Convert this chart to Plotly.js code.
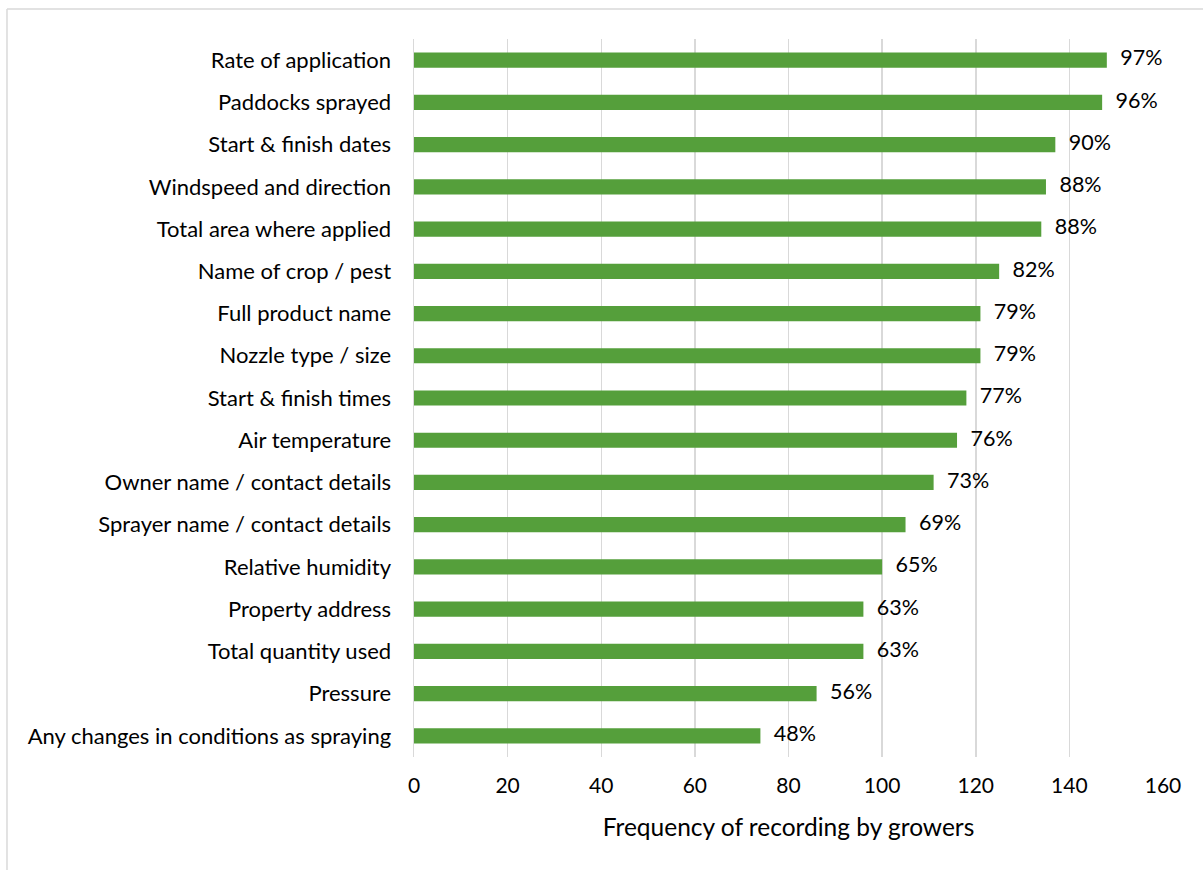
<!DOCTYPE html>
<html>
<head>
<meta charset="utf-8">
<script src="https://cdn.plot.ly/plotly-3.0.1.min.js"></script>
<style>html,body{margin:0;padding:0;background:#fff;}#chart{width:1203px;height:870px;}</style>
</head>
<body>
<div id="chart"></div>
<script>
const categories = [
  "Rate of application",
  "Paddocks sprayed",
  "Start & finish dates",
  "Windspeed and direction",
  "Total area where applied",
  "Name of crop / pest",
  "Full product name",
  "Nozzle type / size",
  "Start & finish times",
  "Air temperature",
  "Owner name / contact details",
  "Sprayer name / contact details",
  "Relative humidity",
  "Property address",
  "Total quantity used",
  "Pressure",
  "Any changes in conditions as spraying"
];
const frequency = [148, 147, 137, 135, 134, 125, 121, 121, 118, 116, 111, 105, 100, 96, 96, 86, 74];
const percentLabels = ["97%", "96%", "90%", "88%", "88%", "82%", "79%", "79%", "77%", "76%", "73%", "69%", "65%", "63%", "63%", "56%", "48%"];
const xTicks = [0, 20, 40, 60, 80, 100, 120, 140, 160];

const FONT = "Lato, 'Open Sans', sans-serif";

const bars = {
  type: "bar",
  orientation: "h",
  y: categories,
  x: frequency,
  width: 0.36,
  marker: {color: "#559F3B"},
  hoverinfo: "skip"
};
const labels = {
  type: "scatter",
  mode: "text",
  y: categories,
  x: frequency,
  text: percentLabels.map(t => "\u2002\u2009" + t),
  textposition: "middle right",
  textfont: {family: FONT, size: 21.5, color: "#000"},
  cliponaxis: false,
  hoverinfo: "skip"
};

const layout = {
  width: 1203, height: 870,
  margin: {l: 414, r: 40, t: 39, b: 113},
  paper_bgcolor: "#fff", plot_bgcolor: "#fff",
  showlegend: false,
  font: {family: FONT, size: 21, color: "#000"},
  bargap: 0.64,
  xaxis: {
    range: [0, 160],
    tickvals: xTicks,
    ticktext: xTicks.map(String),
    showgrid: true, gridcolor: "#d9d9d9", gridwidth: 1.5,
    zeroline: false, showline: false,
    ticks: "", ticklabelstandoff: 14,
    tickfont: {family: FONT, size: 21, color: "#000"},
    title: {text: "Frequency of recording by growers", font: {family: FONT, size: 24.5, color: "#000"}, standoff: 22},
    fixedrange: true
  },
  yaxis: {
    type: "category",
    range: [16.5, -0.5],
    autorange: false,
    showgrid: false, zeroline: false,
    showline: true, linecolor: "#d9d9d9", linewidth: 1.5,
    ticks: "", ticklabelstandoff: 17,
    tickfont: {family: FONT, size: 22, color: "#000"},
    fixedrange: true
  },
  shapes: [
    {type: "line", xref: "paper", yref: "paper", x0: -0.5434, x1: 1.06, y0: 1.0418, y1: 1.0418, line: {color: "#d9d9d9", width: 1.5}},
    {type: "line", xref: "paper", yref: "paper", x0: -0.5434, x1: -0.5434, y0: 1.0418, y1: -0.17, line: {color: "#d9d9d9", width: 1.5}}
  ]
};

Plotly.newPlot("chart", [bars, labels], layout, {displayModeBar: false, staticPlot: true});
</script>
</body>
</html>
